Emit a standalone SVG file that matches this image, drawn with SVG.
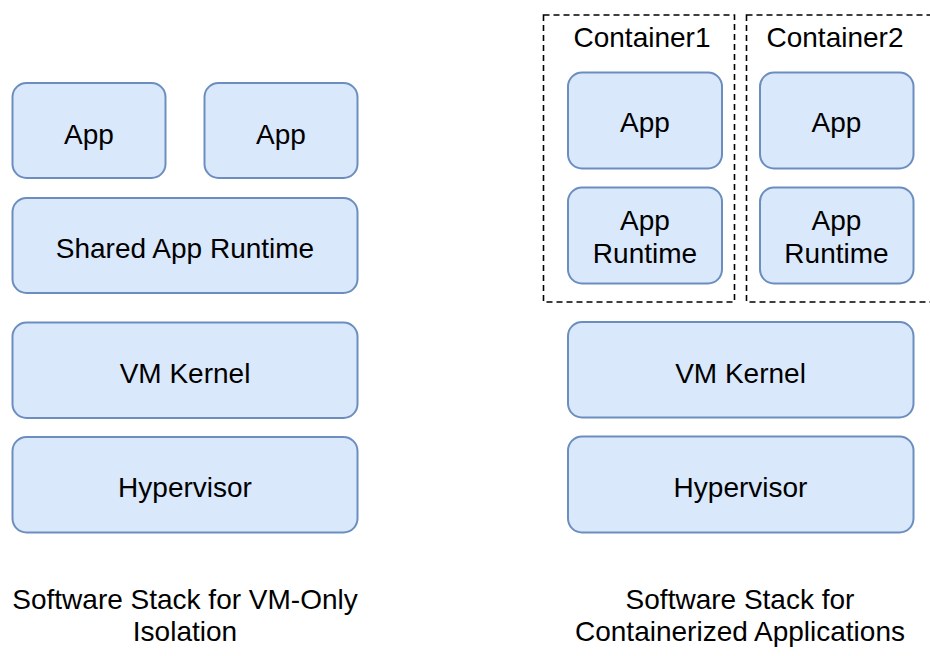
<svg xmlns="http://www.w3.org/2000/svg" width="930" height="656" viewBox="0 0 930 656">
<style>
.box{fill:#dae8fc;stroke:#6c8ebf;stroke-width:2}
.ctr{fill:none;stroke:#000;stroke-width:1.6;stroke-dasharray:6 4}
text{font-family:"Liberation Sans",Arial,Helvetica,sans-serif;font-size:28px;fill:#000;text-anchor:middle}
</style>
<rect x="0" y="0" width="930" height="656" fill="#fff"/>
<g id="left-app1"><rect class="box" x="12.5" y="83" width="153" height="95" rx="14"/><text x="89" y="143.5">App</text></g>
<g id="left-app2"><rect class="box" x="204.5" y="83" width="153" height="95" rx="14"/><text x="281" y="143.5">App</text></g>
<g id="left-runtime"><rect class="box" x="12.5" y="198" width="345" height="95" rx="14"/><text x="185" y="258">Shared App Runtime</text></g>
<g id="left-kernel"><rect class="box" x="12.5" y="322.5" width="345" height="95.5" rx="14"/><text x="185" y="383">VM Kernel</text></g>
<g id="left-hypervisor"><rect class="box" x="12.5" y="437" width="345" height="95.5" rx="14"/><text x="185" y="497">Hypervisor</text></g>
<g id="container1"><rect class="ctr" x="543.5" y="15" width="191" height="287"/><text x="642" y="47">Container1</text></g>
<g id="container2"><rect class="ctr" x="746.5" y="15" width="191" height="287"/><text x="835" y="47">Container2</text></g>
<g id="c1-app"><rect class="box" x="568" y="72.5" width="154" height="96" rx="14"/><text x="645" y="131.5">App</text></g>
<g id="c1-runtime"><rect class="box" x="568" y="187.5" width="154" height="96" rx="14"/><text x="645" y="229.5">App</text><text x="645" y="262.5">Runtime</text></g>
<g id="c2-app"><rect class="box" x="760" y="72.5" width="153.5" height="96" rx="14"/><text x="836.5" y="131.5">App</text></g>
<g id="c2-runtime"><rect class="box" x="760" y="187.5" width="153.5" height="96" rx="14"/><text x="836.5" y="229.5">App</text><text x="836.5" y="262.5">Runtime</text></g>
<g id="right-kernel"><rect class="box" x="568" y="322" width="345.5" height="95.5" rx="14"/><text x="740.5" y="382.5">VM Kernel</text></g>
<g id="right-hypervisor"><rect class="box" x="568" y="436.5" width="345.5" height="96" rx="14"/><text x="740.5" y="496.5">Hypervisor</text></g>
<g id="caption-left"><text x="185" y="609">Software Stack for VM-Only</text><text x="185" y="641">Isolation</text></g>
<g id="caption-right"><text x="740" y="609">Software Stack for</text><text x="740" y="641">Containerized Applications</text></g>
<g id="connectors"></g>
</svg>
